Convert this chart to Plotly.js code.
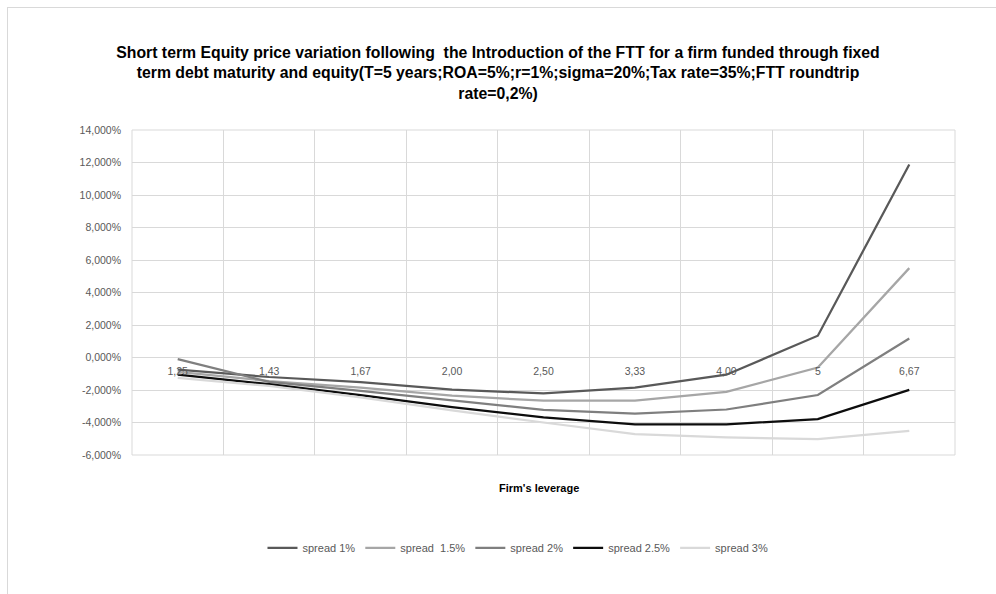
<!DOCTYPE html>
<html>
<head>
<meta charset="utf-8">
<script src="https://cdn.plot.ly/plotly-3.0.1.min.js"></script>
<style>
html,body{margin:0;padding:0;background:#fff;overflow:hidden;}
#frame{position:absolute;left:7px;top:7px;width:1100px;height:700px;border:1px solid #d9d9d9;box-sizing:border-box;}
#chart{position:absolute;left:0;top:0;width:996px;height:594px;}
</style>
</head>
<body>
<div id="frame"></div>
<div id="chart"></div>
<script>
// Categories (firm's leverage)
const leverage = ["1,25","1,43","1,67","2,00","2,50","3,33","4,00","5","6,67"];

// Series values (equity price variation, %)
const spread1   = [-0.75, -1.20, -1.52, -1.98, -2.21, -1.85, -1.06,  1.34, 11.88];
const spread1_5 = [-0.88, -1.45, -1.85, -2.35, -2.66, -2.66, -2.11, -0.62,  5.50];
const spread2   = [-0.10, -1.50, -2.05, -2.65, -3.22, -3.45, -3.20, -2.31,  1.17];
const spread2_5 = [-1.06, -1.64, -2.32, -3.05, -3.69, -4.12, -4.12, -3.79, -1.99];
const spread3   = [-1.25, -1.75, -2.45, -3.25, -4.00, -4.72, -4.92, -5.02, -4.51];

const seriesNames = ["spread 1%", "spread  1.5%", "spread 2%", "spread 2.5%", "spread 3%"];
const seriesValues = [spread1, spread1_5, spread2, spread2_5, spread3];
const seriesColors = ["#595959", "#a6a6a6", "#7f7f7f", "#0d0d0d", "#d9d9d9"];

const yTicks = [-6, -4, -2, 0, 2, 4, 6, 8, 10, 12, 14];
const yTickText = yTicks.map(v => v.toFixed(3).replace(".", ",") + "%");

const traces = seriesValues.map((vals, i) => ({
  type: "scatter",
  mode: "lines",
  x: leverage,
  y: vals,
  name: seriesNames[i],
  line: {color: seriesColors[i], width: 2.25}
}));

const font = "Liberation Sans, Arial, sans-serif";

const layout = {
  width: 996,
  height: 594,
  paper_bgcolor: "rgba(0,0,0,0)",
  plot_bgcolor: "rgba(0,0,0,0)",
  separators: ",.",
  margin: {l: 132, r: 41, t: 130, b: 139},
  title: {
    text: "Short term Equity price variation following  the Introduction of the FTT for a firm funded through fixed<br>term debt maturity and equity(T=5 years;ROA=5%;r=1%;sigma=20%;Tax rate=35%;FTT roundtrip<br>rate=0,2%)",
    font: {family: "Liberation Sans, Arial, sans-serif", size: 15.8, color: "#000", weight: "bold"},
    x: 0.5, xref: "container", xanchor: "center",
    y: 0.903, yref: "container", yanchor: "top"
  },
  xaxis: {
    type: "category",
    range: [-0.5, 8.5],
    tickson: "boundaries",
    anchor: "free",
    position: 0.3,
    showline: false,
    ticks: "",
    ticklabelstandoff: 6,
    showgrid: true,
    gridcolor: "#d9d9d9",
    gridwidth: 1,
    zeroline: false,
    tickfont: {family: font, size: 10.5, color: "#595959"},
    fixedrange: true
  },
  yaxis: {
    range: [-6, 14],
    tickvals: yTicks,
    ticktext: yTickText,
    showgrid: true,
    gridcolor: "#d9d9d9",
    gridwidth: 1,
    zeroline: true,
    zerolinecolor: "#d9d9d9",
    zerolinewidth: 1,
    showline: false,
    ticks: "",
    ticklabelstandoff: 10,
    tickfont: {family: font, size: 10.5, color: "#595959"},
    fixedrange: true
  },
  shapes: [
    {type: "line", xref: "paper", yref: "paper", x0: 0, x1: 0, y0: 0, y1: 1, line: {color: "#d9d9d9", width: 1}, layer: "below"},
    {type: "line", xref: "paper", yref: "paper", x0: 1, x1: 1, y0: 0, y1: 1, line: {color: "#d9d9d9", width: 1}, layer: "below"},
    {type: "line", xref: "paper", yref: "paper", x0: 0, x1: 1, y0: 0, y1: 0, line: {color: "#d9d9d9", width: 1}, layer: "below"},
    {type: "line", xref: "paper", yref: "paper", x0: 0, x1: 1, y0: 1, y1: 1, line: {color: "#d9d9d9", width: 1}, layer: "below"}
  ],
  annotations: [{
    text: "<b>Firm's leverage</b>",
    xref: "paper", yref: "paper",
    x: 0.495, y: -0.103,
    xanchor: "center", yanchor: "middle",
    showarrow: false,
    font: {family: font, size: 11, color: "#000"}
  }],
  showlegend: true,
  legend: {
    orientation: "h",
    x: 0.469, xanchor: "center",
    y: -0.286, yanchor: "middle",
    font: {family: font, size: 11, color: "#595959"},
    tracegroupgap: 0,
    bgcolor: "rgba(0,0,0,0)"
  }
};

Plotly.newPlot("chart", traces, layout, {displayModeBar: false, staticPlot: true});
</script>
</body>
</html>
